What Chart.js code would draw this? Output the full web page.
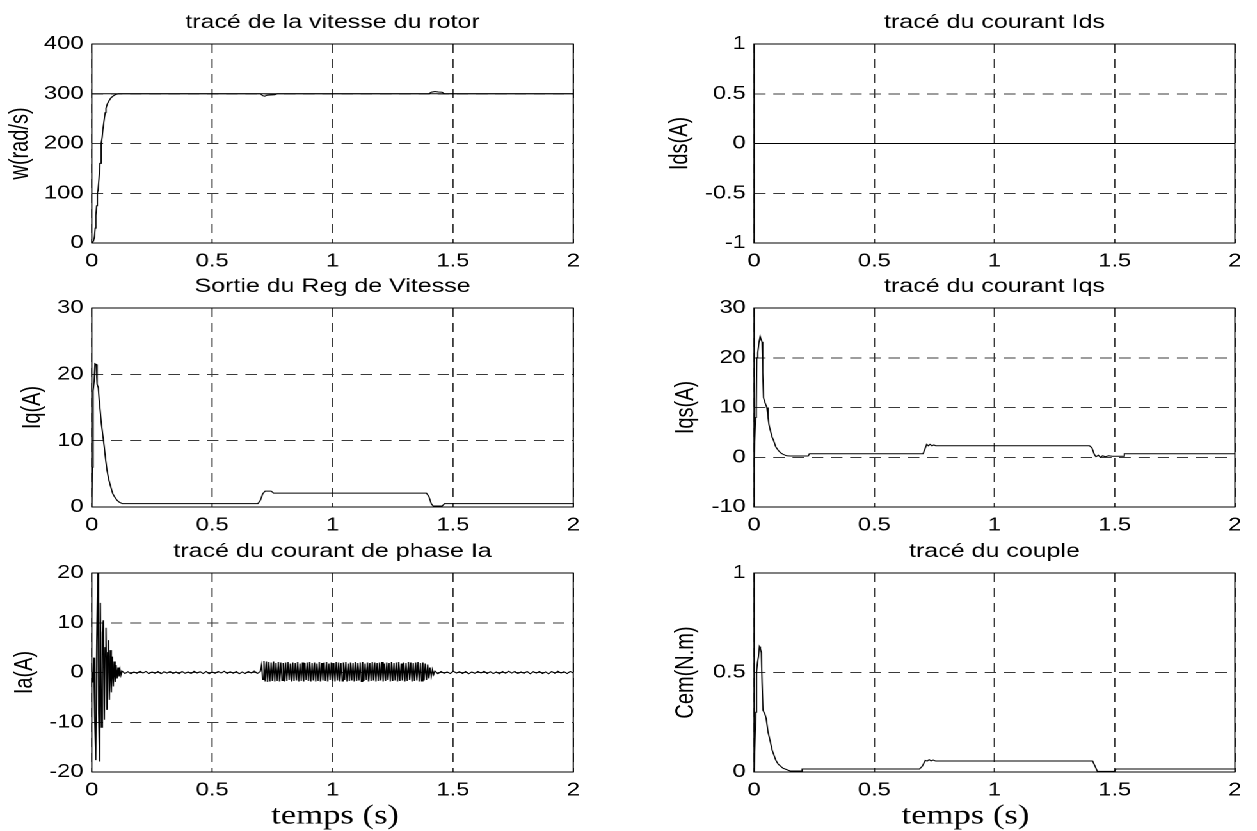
<!DOCTYPE html>
<html>
<head>
<meta charset="utf-8">
<script src="https://cdn.jsdelivr.net/npm/chart.js@4/dist/chart.umd.min.js"></script>
<style>
html,body{margin:0;padding:0;background:#fff;width:1257px;height:831px;overflow:hidden}
#wrap{position:absolute;left:0;top:0;width:982px;height:831px;transform:scaleX(1.28);transform-origin:0 0}
.cell{position:absolute}
.cell canvas{display:block}
</style>
</head>
<body>
<div id="wrap"></div>
<script>
// ---------------- DATA ----------------
const xTickValues = [0, 0.5, 1, 1.5, 2];
const xTickLabels = ['0', '0.5', '1', '1.5', '2'];

const wTickValues = [0, 100, 200, 300, 400];
const wTickLabels = ['0', '100', '200', '300', '400'];
const iqTickValues = [0, 10, 20, 30];
const iqTickLabels = ['0', '10', '20', '30'];
const idsTickValues = [-1, -0.5, 0, 0.5, 1];
const idsTickLabels = ['-1', '-0.5', '0', '0.5', '1'];
const iqsTickValues = [-10, 0, 10, 20, 30];
const iqsTickLabels = ['-10', '0', '10', '20', '30'];
const iaTickValues = [-20, -10, 0, 10, 20];
const iaTickLabels = ['-20', '-10', '0', '10', '20'];
const cemTickValues = [0, 0.5, 1];
const cemTickLabels = ['0', '0.5', '1'];

// rotor speed: reference and response [t, w]
const speedRef = [[0, 300], [2, 300]];
const speed = [[0,0],[0.007,4],[0.011,12],[0.014,30],[0.017,55],[0.020,75],[0.023,100],[0.026,106],[0.030,130],[0.034,160],[0.039,200],[0.043,212],[0.046,227],[0.052,250],[0.056,262],[0.059,271],[0.065,280],[0.073,287],[0.080,292],[0.090,296],[0.100,298.5],[0.110,300],[0.700,300],[0.710,296],[0.718,295],[0.728,297],[0.760,298],[0.770,300],[1.400,300],[1.410,303],[1.425,304.5],[1.440,303.5],[1.455,303],[1.465,300],[2,300]];

// speed regulator output Iq [t, A]
const iqRef = [[0,0],[0.002,6],[0.004,12],[0.007,17.5],[0.010,19],[0.013,21.6],[0.018,21.5],[0.021,21.4],[0.023,18.5],[0.027,18],[0.031,16],[0.035,14.5],[0.040,12.5],[0.047,10.5],[0.052,9],[0.058,7],[0.063,5.6],[0.070,4.2],[0.079,3],[0.087,2],[0.095,1.5],[0.105,1],[0.115,0.7],[0.127,0.5],[0.690,0.5],[0.700,1.0],[0.710,2.0],[0.720,2.4],[0.745,2.4],[0.755,2.1],[1.390,2.1],[1.400,1.6],[1.410,0.5],[1.418,0.15],[1.455,0.15],[1.465,0.5],[2,0.5]];

// Ids [t, A]
const ids = [[0, 0], [2, 0]];

// Iqs [t, A]
const iqs = [[0,0],[0.004,0],[0.006,8],[0.009,9.8],[0.011,20],[0.015,21],[0.020,23],[0.025,24.3],[0.030,23.5],[0.033,23.2],[0.036,17],[0.039,12],[0.045,11],[0.053,10],[0.058,8],[0.062,6.5],[0.067,5.5],[0.075,4],[0.080,3.5],[0.090,2.1],[0.100,1.4],[0.110,0.9],[0.120,0.6],[0.135,0.3],[0.150,0.25],[0.225,0.25],[0.230,0.7],[0.703,0.7],[0.710,1.6],[0.718,2.6],[0.725,2.3],[0.732,2.6],[0.740,2.3],[0.748,2.5],[0.755,2.3],[1.395,2.3],[1.405,1.9],[1.415,0.6],[1.422,0.1],[1.432,0.4],[1.440,0.0],[1.450,0.3],[1.460,0.1],[1.475,0.3],[1.490,0.2],[1.535,0.2],[1.540,0.7],[2,0.7]];

// Phase current Ia: start-up transient [t, A]
const iaStartup = [[0,0],[0.004,-2],[0.008,3],[0.012,-9],[0.0165,-17.6],[0.0205,6],[0.0245,20],[0.0285,-8],[0.0324,-17.9],[0.0356,14],[0.040,-11],[0.044,8],[0.048,10.5],[0.052,-9.5],[0.0555,5],[0.059,9],[0.063,-7.5],[0.066,4],[0.069,6.5],[0.073,-5.5],[0.077,4.5],[0.081,-4],[0.085,3.2],[0.089,-2.8],[0.093,2.2],[0.097,-1.9],[0.101,1.5],[0.105,-1.2],[0.109,1.0],[0.113,-0.8],[0.117,0.6],[0.121,-0.5]];
// Ia no-load ripple, 0.125 s .. 0.6875 s (uniform samples)
const iaNoLoadSpan = [0.125, 0.6875];
const iaNoLoad = [0.3,-0.2,0.15,-0.25,0.1,-0.15,0.25,-0.1,0.2,-0.2,0.1,-0.15,0.2,-0.25,0.15,-0.1,0.2,-0.2,0.1,-0.25,0.2,-0.15,0.1,-0.2,0.25,-0.1,0.15,-0.2,0.2,-0.25,0.1,-0.15,0.2,-0.1,0.25,-0.2,0.15,-0.15,0.2,-0.25,0.1,-0.2,0.2,-0.1,0.3,-0.2];
// Ia under load, 0.70 s .. 1.42 s (uniform samples)
const iaLoadSpan = [0.700, 1.420];
const iaLoad = [0.2,1.5,-1.4,2.3,-1.8,2.2,-1.9,2.1,-1.8,2.0,
  -1.7,2.2,-1.8,1.9,-1.7,2.1,-1.8,2.0,-1.6,1.9,
  -1.8,2.0,-1.7,2.1,-1.5,1.8,-1.8,2.0,-1.7,1.9,
  -1.6,2.1,-1.8,1.8,-1.7,2.0,-1.8,1.9,-1.5,2.0,
  -1.7,2.1,-1.8,1.9,-1.6,2.0,-1.8,1.8,-1.7,2.1,
  -1.8,1.9,-1.6,2.0,-1.7,2.1,-1.8,1.8,-1.5,2.0,
  -1.7,1.9,-1.8,2.1,-1.6,2.0,-1.8,1.9,-1.7,2.0,
  -1.5,2.1,-1.8,1.8,-1.7,2.0,-1.6,1.9,-1.8,2.1,
  -1.7,1.9,-1.6,2.0,-1.8,2.1,-1.7,1.8,-1.5,2.0,
  -1.8,1.9,-1.7,2.1,-1.6,2.0,-1.8,1.9,-1.7,2.0,
  -1.6,2.1,-1.8,1.8,-1.7,2.0,-1.5,1.9,-1.8,2.1,
  -1.7,1.9,-1.6,2.0,-1.8,2.1,-1.7,1.8,-1.6,2.0,
  -1.8,1.9,-1.7,2.1,-1.5,2.0,-1.8,1.9,-1.7,2.0,
  -1.6,2.1,-1.8,1.9,-1.7,2.0,-1.6,1.8,-1.5,1.6,
  -1.2,1.0,-0.8,0.6,-0.4];
// Ia after load removal, 1.425 s .. 2.0 s (uniform samples)
const iaAfterSpan = [1.425, 2.0];
const iaAfter = [0.3,-0.25,0.2,-0.15,0.1,-0.2,0.25,-0.1,0.15,-0.2,0.2,-0.25,0.1,-0.15,0.2,-0.1,0.25,-0.2,0.15,-0.2,0.1,-0.25,0.2,-0.15,0.25,-0.1,0.2,-0.2,0.1,-0.15,0.2,-0.25,0.15,-0.1,0.2,-0.2,0.1,-0.25,0.2,-0.15,0.25,-0.1,0.15,-0.2,0.2,-0.1];

// Electromagnetic torque Cem [t, N.m]
const cem = [[0,0],[0.004,0],[0.007,0.3],[0.010,0.5],[0.014,0.55],[0.018,0.58],[0.022,0.63],[0.026,0.62],[0.030,0.60],[0.033,0.45],[0.037,0.31],[0.045,0.29],[0.050,0.27],[0.058,0.2],[0.066,0.16],[0.075,0.11],[0.090,0.06],[0.100,0.04],[0.120,0.019],[0.150,0.005],[0.197,0.005],[0.200,0.015],[0.688,0.015],[0.700,0.03],[0.712,0.058],[0.720,0.055],[0.728,0.062],[0.736,0.056],[0.745,0.06],[0.755,0.055],[1.408,0.055],[1.418,0.03],[1.428,0.003],[1.500,0.003],[1.505,0.015],[2,0.015]];

// ---------------- BUILD ----------------
const FONT = "'Liberation Sans', Arial, Helvetica, sans-serif";
const SERIF = "'Liberation Serif', 'Times New Roman', serif";
Chart.defaults.color = '#000';

const pairs = a => a.map(([x, y]) => ({x, y}));
const span = (sp, vals) => vals.map((v, i) => ({x: sp[0] + (sp[1] - sp[0]) * i / (vals.length - 1), y: v}));
const iaPoints = pairs(iaStartup).concat(span(iaNoLoadSpan, iaNoLoad), span(iaLoadSpan, iaLoad), span(iaAfterSpan, iaAfter));

const S = 1.28;                       // horizontal stretch of the original figure
const COL_PLOT = [[91.7, 573.3], [754, 1235]];
const ROW_PLOT = [[44, 243], [308, 507], [573, 772]];
const COL_DIV_LEFT = [0, 500];
const PAD_R = 12;
const TITLE_BLOCK = 44;
const XLABEL_SIZE = 27;

const framePlugin = {
  id: 'frame',
  afterDatasetsDraw(chart) {
    const {ctx, chartArea: a} = chart;
    ctx.save();
    ctx.strokeStyle = '#000';
    ctx.lineWidth = 1;
    ctx.setLineDash([]);
    ctx.strokeRect(a.left, a.top, a.right - a.left, a.bottom - a.top);
    ctx.restore();
  }
};
const xLabelPlugin = {
  id: 'xLabel',
  afterDraw(chart, args, opts) {
    if (!opts || !opts.text) return;
    const {ctx, chartArea: a} = chart;
    ctx.save();
    ctx.font = 'normal normal ' + XLABEL_SIZE + 'px ' + SERIF;
    ctx.fillStyle = '#000';
    ctx.textAlign = 'center';
    ctx.textBaseline = 'middle';
    ctx.fillText(opts.text, (a.left + a.right) / 2 + opts.dx, a.bottom + opts.dy);
    ctx.restore();
  }
};

function lineDs(points) {
  return {data: points, borderColor: '#000', borderWidth: 1, pointRadius: 0, fill: false, tension: 0};
}

function makePanel(p) {
  const pl = COL_PLOT[p.col][0] / S, pr = COL_PLOT[p.col][1] / S;
  const [pt, pb] = ROW_PLOT[p.row];
  const divLeft = COL_DIV_LEFT[p.col];
  const divTop = pt - TITLE_BLOCK;
  const xH = p.row === 2 ? 58 : 30;
  const divW = pr + PAD_R - divLeft;
  const divH = TITLE_BLOCK + (pb - pt) + xH;
  const padL = p.yLabelX / S - 12 - divLeft;
  const yW = pl - divLeft - padL;

  const el = document.createElement('div');
  el.className = 'cell';
  el.style.left = divLeft + 'px';
  el.style.top = divTop + 'px';
  el.style.width = divW + 'px';
  el.style.height = divH + 'px';
  const cv = document.createElement('canvas');
  el.appendChild(cv);
  document.getElementById('wrap').appendChild(el);

  const gridOpts = {color: '#3a3a3a', lineWidth: 1, drawTicks: false};
  const borderOpts = {display: false, dash: [9, 6]};
  const tickFont = {family: FONT, size: 18.5};

  new Chart(cv, {
    type: 'line',
    data: {datasets: p.datasets.map(lineDs)},
    options: {
      animation: false,
      responsive: true,
      maintainAspectRatio: false,
      devicePixelRatio: 2,
      events: [],
      layout: {padding: {left: padL, right: PAD_R, top: 0, bottom: 0}},
      plugins: {
        legend: {display: false},
        tooltip: {enabled: false},
        title: {display: true, text: p.title, fullSize: false, color: '#000',
                font: {family: FONT, size: 19.5, weight: 'normal'}, padding: {top: 10.8, bottom: 9.8}},
        xLabel: p.row === 2 ? {text: 'temps (s)', dx: p.xLabelDx / S, dy: 44.6} : {}
      },
      scales: {
        x: {
          type: 'linear', min: 0, max: 2,
          grid: gridOpts, border: borderOpts,
          afterBuildTicks: s => { s.ticks = xTickValues.map(v => ({value: v})); },
          afterFit: s => { s.height = xH; },
          ticks: {font: tickFont, color: '#000', padding: 7.4, maxRotation: 0, autoSkip: false,
                  callback: (v, i) => xTickLabels[i]}
        },
        y: {
          type: 'linear', min: p.yTicks[0], max: p.yTicks[p.yTicks.length - 1],
          grid: gridOpts, border: borderOpts,
          afterBuildTicks: s => { s.ticks = p.yTicks.map(v => ({value: v})); },
          afterFit: s => { s.width = yW; },
          ticks: {font: tickFont, color: '#000', padding: 6.5, autoSkip: false,
                  callback: (v, i) => p.yLabels[i]},
          title: {display: true, text: p.ylabel, color: '#000',
                  font: {family: FONT, size: 20}, padding: {top: 0, bottom: 0}}
        }
      }
    },
    plugins: [framePlugin, xLabelPlugin]
  });
}

const panels = [
  {col: 0, row: 0, title: 'tracé de la vitesse du rotor', ylabel: 'w(rad/s)', yLabelX: 20.7,
   yTicks: wTickValues, yLabels: wTickLabels, datasets: [pairs(speedRef), pairs(speed)]},
  {col: 1, row: 0, title: 'tracé du courant Ids', ylabel: 'Ids(A)', yLabelX: 680,
   yTicks: idsTickValues, yLabels: idsTickLabels, datasets: [pairs(ids)]},
  {col: 0, row: 1, title: 'Sortie du Reg de Vitesse', ylabel: 'Iq(A)', yLabelX: 32.5,
   yTicks: iqTickValues, yLabels: iqTickLabels, datasets: [pairs(iqRef)]},
  {col: 1, row: 1, title: 'tracé du courant Iqs', ylabel: 'Iqs(A)', yLabelX: 686,
   yTicks: iqsTickValues, yLabels: iqsTickLabels, datasets: [pairs(iqs)]},
  {col: 0, row: 2, title: 'tracé du courant de phase Ia', ylabel: 'Ia(A)', yLabelX: 25, xLabelDx: 2.5,
   yTicks: iaTickValues, yLabels: iaTickLabels, datasets: [iaPoints]},
  {col: 1, row: 2, title: 'tracé du couple', ylabel: 'Cem(N.m)', yLabelX: 686, xLabelDx: -29,
   yTicks: cemTickValues, yLabels: cemTickLabels, datasets: [pairs(cem)]}
];
panels.forEach(makePanel);
</script>
</body>
</html>
